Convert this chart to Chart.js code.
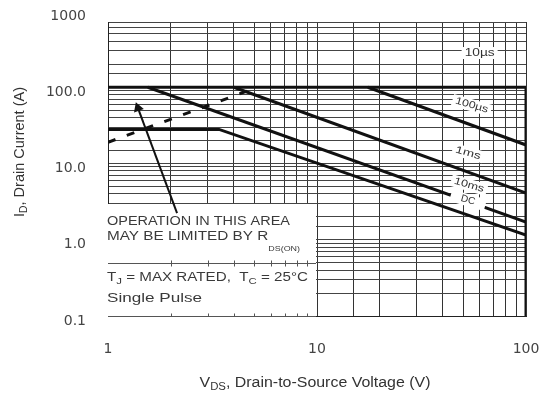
<!DOCTYPE html>
<html>
<head>
<meta charset="utf-8">
<script src="https://cdn.jsdelivr.net/npm/chart.js@4"></script>
<style>
html,body{margin:0;padding:0;background:#fff;}
canvas{display:block;}
</style>
</head>
<body>
<canvas id="c" width="542" height="402"></canvas>
<script>
// ---- tick labels ----
const xTickValues = [1, 10, 100];
const xTickLabels = ['1', '10', '100'];
const yTickValues = [0.1, 1, 10, 100, 1000];
const yTickLabels = ['0.1', '1.0', '10.0', '100.0', '1000'];

// ---- SOA boundary curves (VDS in V, ID in A) ----
const vds10us  = [1, 100, 100];
const id10us   = [100, 100, 0.1];
const vds100us = [17.5, 100];
const id100us  = [100, 17.5];
const vds1ms   = [4, 100];
const id1ms    = [100, 4.1];
const vds10ms  = [1.55, 100];
const id10ms   = [100, 1.7];
const vdsDC    = [1, 3.4, 100];
const idDC     = [28, 28, 1.15];
const vdsRds   = [1, 5.2];
const idRds    = [19, 100];
const vdsArrow = [2.14, 1.39];
const idArrow  = [2.24, 53.5];

// ---- curve labels ----
const curveNames = ['10µs', '100µs', '1ms', '10ms', 'DC'];
const curveLabelVds = [60, 55, 52.8, 53.4, 52.8];
const curveLabelId  = [281, 58, 13.7, 5.2, 3.3];

const pts = (xs, ys) => xs.map((x, i) => ({ x, y: ys[i] }));
function tickText(v, vals, labels) {
  for (let i = 0; i < vals.length; i++) if (Math.abs(v - vals[i]) / vals[i] < 1e-6) return labels[i];
  return '';
}

const lineDs = (data, extra) => Object.assign({
  data, showLine: true, pointRadius: 0, borderColor: '#111', borderWidth: 3,
  fill: false, tension: 0
}, extra || {});

const SANS = '"Liberation Sans", Arial, sans-serif';

function richWidth(ctx, parts) {
  let w = 0;
  for (const p of parts) { ctx.font = p.fs + 'px ' + SANS; w += ctx.measureText(p.t).width; }
  return w;
}
function drawRich(ctx, parts, x, y, targetW, align, color) {
  const w = richWidth(ctx, parts);
  const sx = targetW ? targetW / w : 1;
  ctx.save();
  ctx.translate(x, y);
  ctx.scale(sx, 1);
  let cx = align === 'center' ? -w / 2 : 0;
  ctx.fillStyle = color || '#333';
  ctx.textBaseline = 'middle';
  ctx.textAlign = 'left';
  for (const p of parts) {
    ctx.font = p.fs + 'px ' + SANS;
    ctx.fillText(p.t, cx, p.dy || 0);
    cx += ctx.measureText(p.t).width;
  }
  ctx.restore();
}

const decor = {
  id: 'decor',
  beforeDatasetsDraw(chart) {
    const { ctx, chartArea: a, scales: { x, y } } = chart;
    ctx.save();
    ctx.fillStyle = '#fff';
    // blank strip above the 700 A grid line (frame top)
    const yTop = Math.round(y.getPixelForValue(700));
    ctx.fillRect(a.left - 2, a.top - 2, a.right - a.left + 4, yTop - a.top + 1);
    // white note box in the lower-left
    const bx0 = a.left - 2, bx1 = Math.round(x.getPixelForValue(10)) - 1;
    const by0 = Math.round(y.getPixelForValue(3)) + 1, by1 = a.bottom;
    ctx.fillRect(bx0, by0, bx1 - bx0, by1 - by0);
    ctx.strokeStyle = '#555';
    ctx.lineWidth = 1;
    const ym = Math.round(y.getPixelForValue(0.5)) + 0.5;
    const yb = Math.round(a.bottom) + 0.5;
    ctx.beginPath();
    ctx.moveTo(a.left, ym); ctx.lineTo(bx1, ym);
    ctx.moveTo(a.left, yb); ctx.lineTo(bx1, yb);
    for (let v = 2; v <= 9; v++) {
      const px = Math.round(x.getPixelForValue(v)) + 0.5;
      ctx.moveTo(px, ym - 3); ctx.lineTo(px, ym + 3);
      ctx.moveTo(px, yb - 3); ctx.lineTo(px, yb);
    }
    ctx.stroke();
    ctx.restore();
  },
  afterDatasetsDraw(chart) {
    const { ctx, chartArea: a, scales: { x, y } } = chart;
    ctx.save();
    // curve labels
    const angles = [0, 0.28, 0.28, 0.28, 0.28];
    const widths = [30, 34, 26, 31, 0];
    const bgWidths = [30, 34, 26, 31, 30];
    for (let i = 0; i < curveNames.length; i++) {
      const px = x.getPixelForValue(curveLabelVds[i]);
      const py = y.getPixelForValue(curveLabelId[i]);
      ctx.save();
      ctx.translate(px, py);
      ctx.rotate(angles[i]);
      const w = bgWidths[i];
      ctx.fillStyle = '#fff';
      ctx.fillRect(-w / 2 - 3, -6, w + 6, 12);
      ctx.restore();
      ctx.save();
      ctx.translate(px, py);
      ctx.rotate(angles[i]);
      drawRich(ctx, [{ t: curveNames[i], fs: 10 }], 0, 0, widths[i] || null, 'center', '#333');
      ctx.restore();
    }
    // note texts
    const L = a.left - 1;
    drawRich(ctx, [{ t: 'OPERATION IN THIS AREA', fs: 12 }], L, 222, 183, 'left', '#3a3a3a');
    drawRich(ctx, [{ t: 'MAY BE LIMITED BY R', fs: 12 }, { t: 'DS(ON)', fs: 7, dy: 12 }], L, 237, 193, 'left', '#3a3a3a');
    drawRich(ctx, [{ t: 'T', fs: 12 }, { t: 'J', fs: 9, dy: 4 }, { t: ' = MAX RATED,  T', fs: 12 }, { t: 'C', fs: 9, dy: 4 }, { t: ' = 25°C', fs: 12 }], L, 278, 201, 'left', '#3a3a3a');
    drawRich(ctx, [{ t: 'Single Pulse', fs: 12 }], L, 299, 95, 'left', '#3a3a3a');
    // axis titles
    drawRich(ctx, [{ t: 'V', fs: 14 }, { t: 'DS', fs: 10, dy: 4 }, { t: ', Drain-to-Source Voltage (V)', fs: 14 }], 315, 383, 231, 'center', '#333');
    ctx.save();
    ctx.translate(20, 152);
    ctx.rotate(-Math.PI / 2);
    drawRich(ctx, [{ t: 'I', fs: 14 }, { t: 'D', fs: 10, dy: 4 }, { t: ', Drain Current (A)', fs: 14 }], 0, 0, 130, 'center', '#333');
    ctx.restore();
    ctx.restore();
  }
};

new Chart(document.getElementById('c'), {
  type: 'scatter',
  data: {
    datasets: [
      lineDs(pts(vds10us, id10us), { label: '10µs' }),
      lineDs(pts(vds100us, id100us), { label: '100µs' }),
      lineDs(pts(vds1ms, id1ms), { label: '1ms' }),
      lineDs(pts(vds10ms, id10ms), { label: '10ms' }),
      lineDs(pts(vdsDC, idDC), { label: 'DC' }),
      lineDs(pts(vdsRds, idRds), { label: 'RDS(on) limit', borderDash: [8, 12], borderWidth: 3 }),
      lineDs(pts(vdsArrow, idArrow), {
        label: 'arrow', borderWidth: 2,
        pointRadius: [0, 6], pointStyle: 'triangle', pointRotation: -20,
        pointBackgroundColor: '#111', pointBorderColor: '#111', pointBorderWidth: 0
      })
    ]
  },
  options: {
    responsive: false,
    animation: false,
    layout: { padding: { top: 11, right: 16, left: 0, bottom: 0 } },
    plugins: { legend: { display: false }, tooltip: { enabled: false } },
    scales: {
      x: {
        type: 'logarithmic', min: 1, max: 100, position: 'bottom',
        grid: { color: '#333', lineWidth: 1, drawTicks: false },
        border: { color: '#222', width: 1 },
        ticks: {
          autoSkip: false, maxRotation: 0, padding: 25, color: '#444',
          font: { family: '"DejaVu Sans", sans-serif', size: 14 },
          callback: v => tickText(v, xTickValues, xTickLabels)
        },
        afterFit: s => { s.height = 86; s.paddingLeft = 0; s.paddingRight = 0; }
      },
      y: {
        type: 'logarithmic', min: 0.1, max: 1000,
        grid: { color: '#444', lineWidth: 1, drawTicks: false },
        border: { color: '#222', width: 1 },
        ticks: {
          autoSkip: false, padding: 22, labelOffset: 5, color: '#444',
          font: { family: '"DejaVu Sans", sans-serif', size: 14 },
          callback: v => tickText(v, yTickValues, yTickLabels)
        },
        afterFit: s => { s.width = 108; s.paddingTop = 0; s.paddingBottom = 0; }
      }
    }
  },
  plugins: [decor]
});
</script>
</body>
</html>
